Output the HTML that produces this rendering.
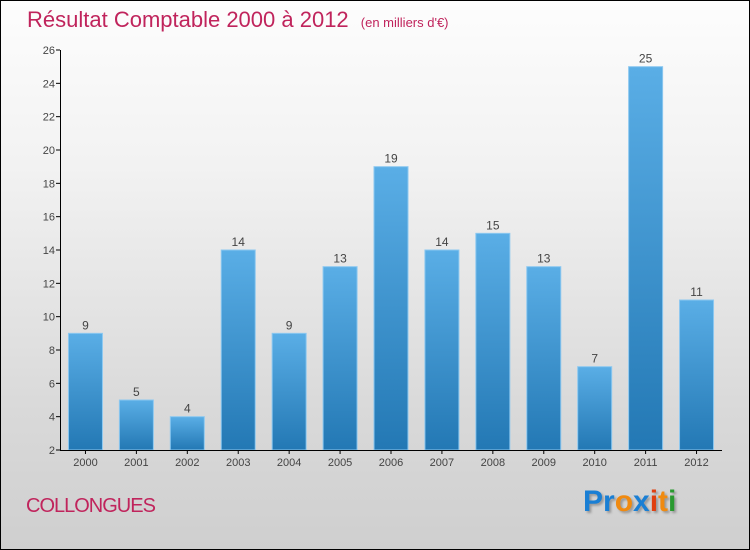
<!DOCTYPE html>
<html><head><meta charset="utf-8"><style>
body{margin:0}
#wrap{position:relative;width:748px;height:548px;border:1px solid #000;background:linear-gradient(#fdfdfd,#f2f2f2 30%,#d9d9d9 75%,#cfcfcf);font-family:"Liberation Sans",sans-serif;overflow:hidden}
</style></head><body>
<div id="wrap">
<div style="position:absolute;left:26px;top:6px;font-size:22px;color:#c0245c;white-space:nowrap">Résultat Comptable 2000 à 2012 <span style="font-size:13px;margin-left:6px">(en milliers d'€)</span></div>
<svg id="chart" width="748" height="548" style="position:absolute;left:0;top:0">
<defs><linearGradient id="g" x1="0" y1="0" x2="0" y2="1"><stop offset="0" stop-color="#5aaee6"/><stop offset="1" stop-color="#2378b4"/></linearGradient></defs>
</svg>
<div style="position:absolute;left:25px;top:494px;font-size:20px;color:#c0245c;letter-spacing:-1px">COLLONGUES</div>
<div style="position:absolute;left:582px;top:484px;font-size:30px;font-weight:bold;text-shadow:2px 2px 2px #999"><span style="color:#1a7fd4">Pr</span><span style="color:#f08a10">o</span><span style="color:#1a7fd4">x</span><span style="color:#e04010">i</span><span style="color:#f08a10">t</span><span style="color:#2a9a30">i</span></div>
</div>
<script>
const categories=["2000","2001","2002","2003","2004","2005","2006","2007","2008","2009","2010","2011","2012"];
const values=[9,5,4,14,9,13,19,14,15,13,7,25,11];
const yTicks=[2,4,6,8,10,12,14,16,18,20,22,24,26];
const svg=document.getElementById('chart');
const NS='http://www.w3.org/2000/svg';
const x0=59,x1=721,yTop=49,yBot=449,vMin=2,vMax=26;
const y=v=>yBot-(v-vMin)/(vMax-vMin)*(yBot-yTop);
const step=(x1-x0)/categories.length;
const xc=i=>x0+step*(i+0.5);
function mk(t,a){const e=document.createElementNS(NS,t);for(const k in a)e.setAttribute(k,a[k]);svg.appendChild(e);return e;}
yTicks.forEach(v=>{
 const l=mk('line',{x1:x0-4,x2:x0,y1:y(v),y2:y(v),stroke:'#000'});
 
 
 const t=mk('text',{x:x0-5,y:y(v)+4,'text-anchor':'end','font-size':11,fill:'#444'});
 t.textContent=v;
 
 
});
values.forEach((v,i)=>{
 const cx=xc(i);
 const r=mk('rect',{x:cx-17,y:y(v),width:34,height:yBot-y(v),fill:'url(#g)',stroke:'#8cc8f0','stroke-width':1});
 
 
 const t=mk('text',{x:cx,y:y(v)-4,'text-anchor':'middle','font-size':12,fill:'#444'});
 t.textContent=v;
 
 
 const c=mk('text',{x:cx,y:yBot+16,'text-anchor':'middle','font-size':11,fill:'#444'});
 c.textContent=categories[i];
 
 
 const tk=mk('line',{x1:cx,x2:cx,y1:yBot,y2:yBot+4,stroke:'#000'});
 
 
});
const ya=mk('line',{x1:x0+.5,x2:x0+.5,y1:yTop,y2:yBot,stroke:'#000'});


const xa=mk('line',{x1:x0,x2:x1,y1:yBot+.5,y2:yBot+.5,stroke:'#000'});


</script>
</body></html>
